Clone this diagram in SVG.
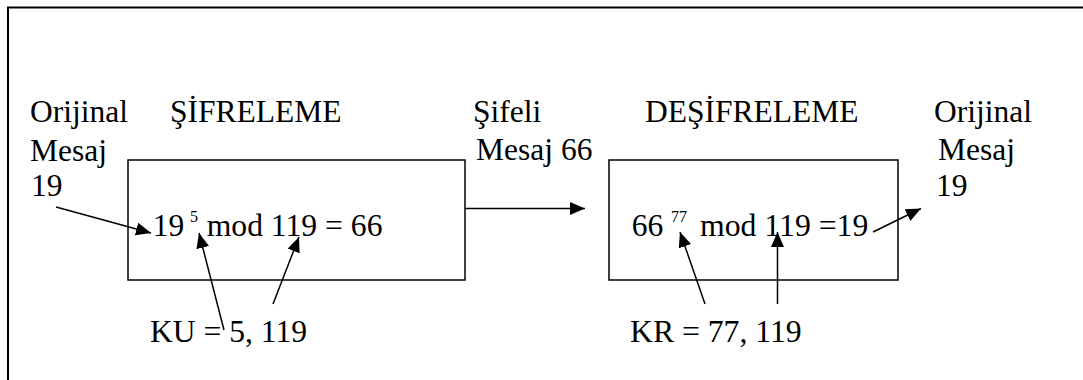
<svg xmlns="http://www.w3.org/2000/svg" width="1083" height="380" viewBox="0 0 1083 380">
<style>
text{font-family:"Liberation Serif","Times New Roman",serif;font-size:31.5px;fill:#000}
.sup{font-size:16px}
.box{fill:none;stroke:#000;stroke-width:1.5}
.frame{fill:none;stroke:#000;stroke-width:2}
.c{stroke:#000;stroke-width:1.5;fill:none;marker-end:url(#ah)}
</style>
<defs>
<marker id="ah" markerUnits="userSpaceOnUse" markerWidth="16" markerHeight="14" refX="15" refY="6.5" orient="auto">
<path d="M0,0 L15,6.5 L0,13 z" fill="#000"/>
</marker>
</defs>
<rect x="0" y="0" width="1083" height="380" fill="#fff"/>
<rect id="frame" x="8" y="7.5" width="1200" height="500" class="frame"/>
<g id="labels" lengthAdjust="spacingAndGlyphs">
<text x="30" y="122" textLength="98" lengthAdjust="spacingAndGlyphs">Orijinal</text>
<text x="30" y="161" textLength="77" lengthAdjust="spacingAndGlyphs">Mesaj</text>
<text x="31" y="196" textLength="31.5" lengthAdjust="spacingAndGlyphs">19</text>
<text x="170" y="122" textLength="171.5" lengthAdjust="spacingAndGlyphs">ŞİFRELEME</text>
<text x="473" y="122" textLength="68.3" lengthAdjust="spacingAndGlyphs">Şifeli</text>
<text x="476" y="160" textLength="116.4" lengthAdjust="spacingAndGlyphs">Mesaj 66</text>
<text x="645" y="122" textLength="213.5" lengthAdjust="spacingAndGlyphs">DEŞİFRELEME</text>
<text x="934" y="122" textLength="98" lengthAdjust="spacingAndGlyphs">Orijinal</text>
<text x="938" y="160" textLength="77" lengthAdjust="spacingAndGlyphs">Mesaj</text>
<text x="936" y="196" textLength="31.5" lengthAdjust="spacingAndGlyphs">19</text>
</g>
<g id="sifreleme">
<rect x="128" y="160" width="337" height="120" class="box"/>
<text x="152.7" y="236" textLength="31.5" lengthAdjust="spacingAndGlyphs">19</text>
<text x="190" y="222" class="sup" textLength="8" lengthAdjust="spacingAndGlyphs">5</text>
<text x="206.7" y="236" textLength="175.8" lengthAdjust="spacingAndGlyphs">mod 119 = 66</text>
</g>
<g id="desifreleme">
<rect x="609" y="160" width="289" height="120" class="box"/>
<text x="631.7" y="236" textLength="31.5" lengthAdjust="spacingAndGlyphs">66</text>
<text x="671" y="222" class="sup" textLength="16" lengthAdjust="spacingAndGlyphs">77</text>
<text x="700" y="236" textLength="168.3" lengthAdjust="spacingAndGlyphs">mod 119 =19</text>
</g>
<g id="ku"><text x="150" y="342" textLength="157" lengthAdjust="spacingAndGlyphs">KU = 5, 119</text></g>
<g id="kr"><text x="630" y="342" textLength="171.7" lengthAdjust="spacingAndGlyphs">KR = 77, 119</text></g>
<g id="connectors">
<line class="c" x1="56" y1="207" x2="151" y2="233"/>
<line class="c" x1="224" y1="330" x2="199" y2="233"/>
<line class="c" x1="273" y1="304" x2="299" y2="237"/>
<line class="c" x1="465" y1="208.5" x2="585" y2="208.5"/>
<line class="c" x1="705" y1="304" x2="680" y2="232"/>
<line class="c" x1="777.5" y1="304" x2="777.5" y2="232"/>
<line class="c" x1="873" y1="232" x2="921" y2="208.5"/>
</g>
</svg>
